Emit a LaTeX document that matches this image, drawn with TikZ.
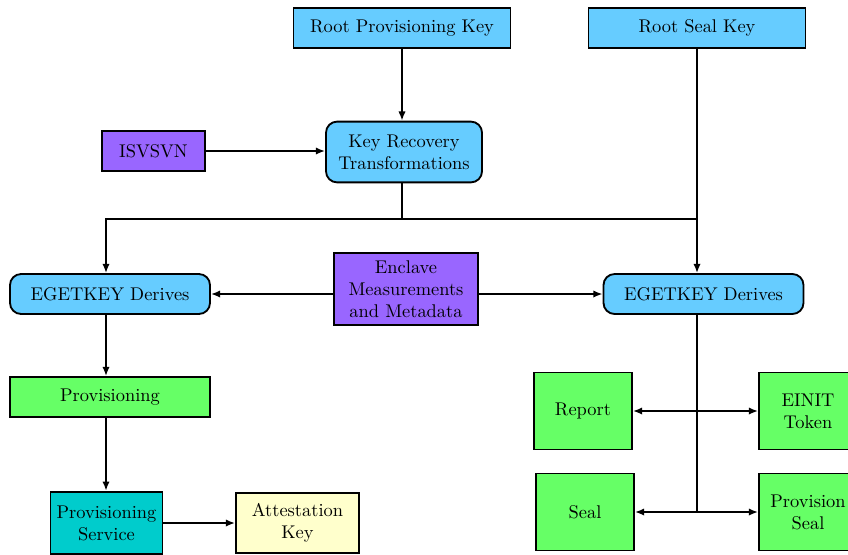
\documentclass[tikz,border=0pt]{standalone}
\usepackage{tikz}
\usetikzlibrary{arrows.meta}

\definecolor{keyblue}{RGB}{102,204,255}
\definecolor{inpurple}{RGB}{153,102,255}
\definecolor{outgreen}{RGB}{102,255,102}
\definecolor{svcteal}{RGB}{0,204,204}
\definecolor{attyellow}{RGB}{255,255,204}

\tikzset{
    keybox/.style={draw, line width=1pt, fill=keyblue, align=center, minimum width=117.8pt, minimum height=21.7pt},
    derivebox/.style={draw, line width=1pt, fill=keyblue, rounded corners=6pt, align=center, minimum height=21.7pt},
    inbox/.style={draw, line width=1pt, fill=inpurple, align=center},
    outbox/.style={draw, line width=1pt, fill=outgreen, align=center, minimum width=53.2pt, minimum height=41.8pt},
    link/.style={line width=1pt, -{Latex[length=5pt,width=4pt]}},
    biglink/.style={line width=1pt, {Latex[length=5pt,width=4pt]}-{Latex[length=5pt,width=4pt]}}
}

\begin{document}
\begin{tikzpicture}[x=0.543pt, y=-0.543pt]
    \useasboundingbox (0,0) rectangle (848,554);
    \clip (0,0) rectangle (848,554);

    % root keys
    \node[keybox] (rpk) at (402,28) {Root Provisioning Key};
    \node[keybox] (rsk) at (697,28) {Root Seal Key};

    % key recovery
    \node[derivebox, minimum width=84.7pt, minimum height=33pt] (krt) at (404,152) {Key Recovery\\Transformations};
    \node[inbox, minimum width=56pt, minimum height=21.7pt] (isv) at (153.5,151) {ISVSVN};

    % derivation
    \node[derivebox, minimum width=108.6pt] (egl) at (110,294) {EGETKEY Derives};
    \node[inbox, minimum width=78.2pt, minimum height=39pt] (enc) at (406,289) {Enclave\\Measurements\\and Metadata};
    \node[derivebox, minimum width=108.6pt] (egr) at (703.5,294) {EGETKEY Derives};

    % provisioning side
    \node[draw, line width=1pt, fill=outgreen, minimum width=108.6pt, minimum height=21.7pt] (prov) at (110,397) {Provisioning};
    \node[draw, line width=1pt, fill=svcteal, align=center, minimum width=59.2pt, minimum height=34pt] (ps) at (106.5,523) {Provisioning\\Service};
    \node[draw, line width=1pt, fill=attyellow, align=center, minimum width=66.8pt, minimum height=33pt] (ak) at (297.5,523) {Attestation\\Key};

    % seal side
    \node[outbox] (rep) at (583,411) {Report};
    \node[outbox] (einit) at (808,411) {EINIT\\Token};
    \node[outbox] (seal) at (585,512) {Seal};
    \node[outbox] (pseal) at (808,512) {Provision\\Seal};

    \coordinate (split) at (402,219);
    \coordinate (lcol) at (106,0);

    \draw[link] (rpk) -- (rpk |- krt.north);
    \draw[link] (isv) -- (isv -| krt.west);
    \draw[line width=1pt] (rpk |- krt.south) -- (split);
    \draw[link] (split) -| (lcol |- egl.north);
    \draw[line width=1pt] (split) -- (rsk |- split);
    \draw[link] (rsk.south) -- (rsk |- egr.north);
    \draw[link] (enc.west |- egl) -- (egl.east);
    \draw[link] (enc.east |- egr) -- (egr.west);
    \draw[link] (lcol |- egl.south) -- (lcol |- prov.north);
    \draw[link] (lcol |- prov.south) -- (lcol |- ps.north);
    \draw[link] (ps.east |- ak) -- (ak.west);
    \draw[line width=1pt] (rsk |- egr.south) -- (rsk |- seal);
    \draw[biglink] (rep.east) -- (einit.west);
    \draw[biglink] (seal.east) -- (pseal.west);
\end{tikzpicture}
\end{document}
